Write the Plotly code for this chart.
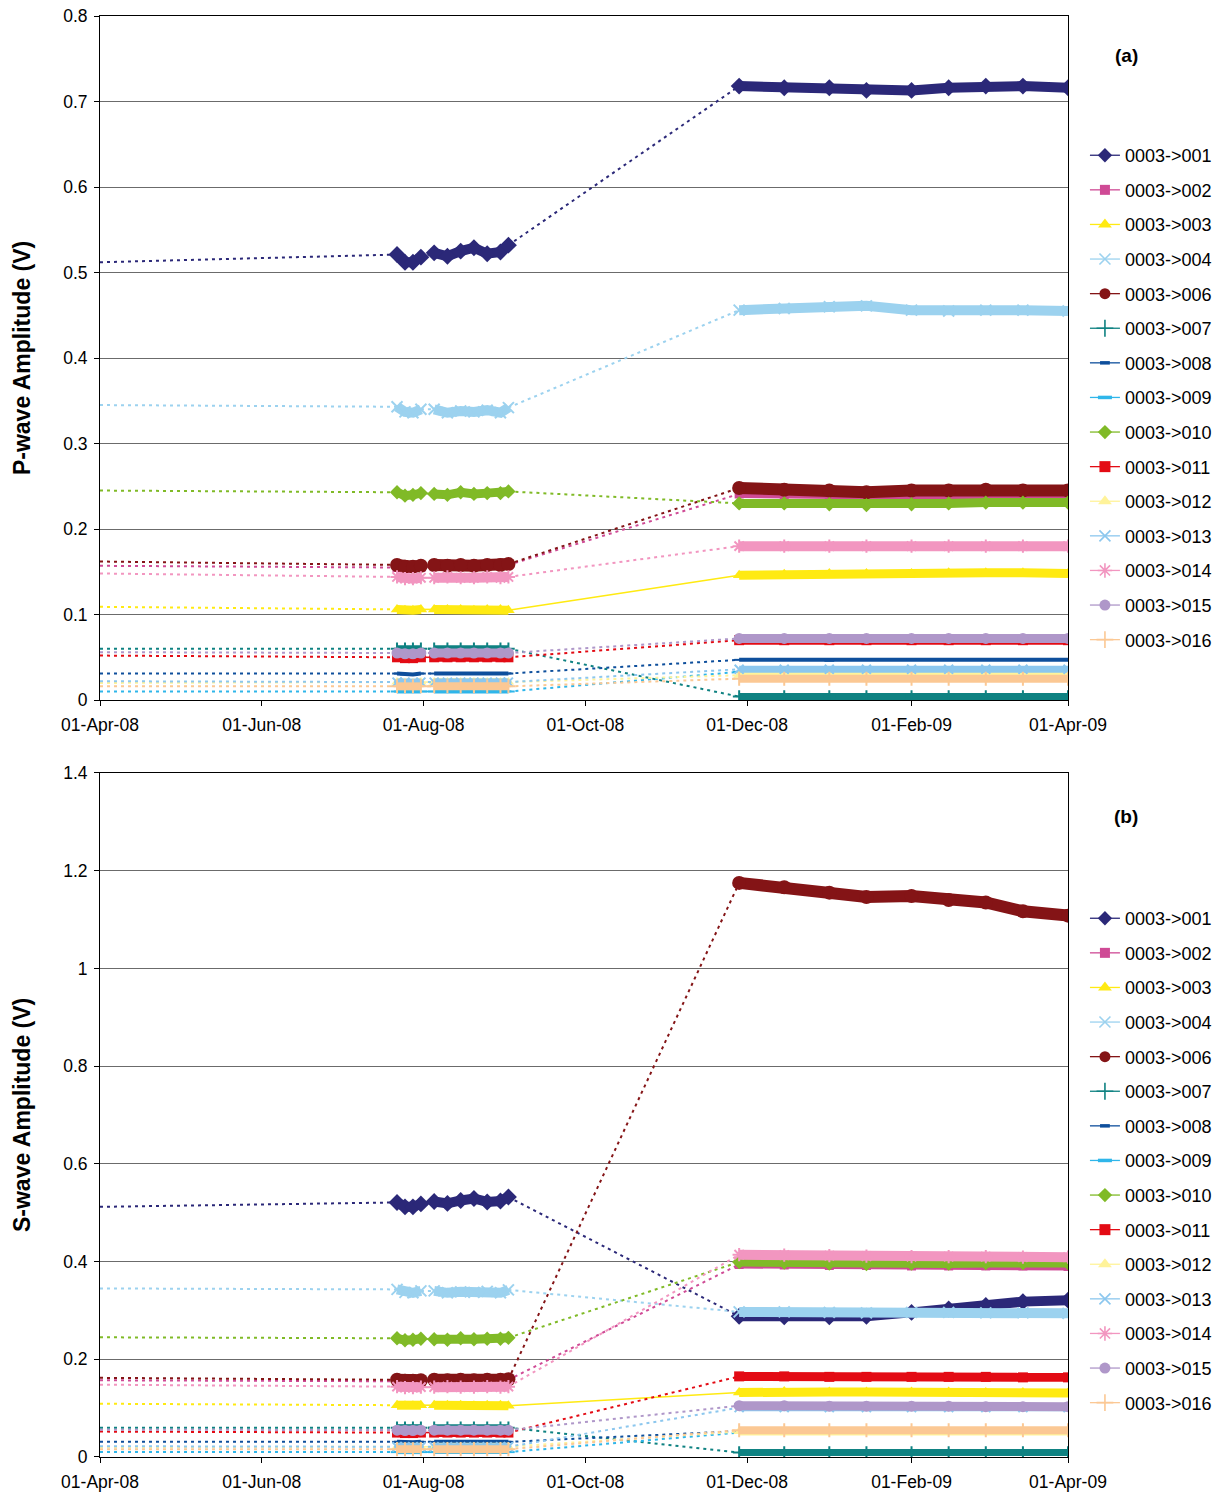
import plotly.graph_objects as go

# ---------------- data ----------------
SERIES = ["0003->001", "0003->002", "0003->003", "0003->004", "0003->006",
          "0003->007", "0003->008", "0003->009", "0003->010", "0003->011",
          "0003->012", "0003->013", "0003->014", "0003->015", "0003->016"]

START_DATE = "2008-04-01"
C1_DATES = ["2008-07-22", "2008-07-25", "2008-07-28", "2008-07-31"]
C2_DATES = ["2008-08-05", "2008-08-10", "2008-08-15", "2008-08-20",
            "2008-08-25", "2008-08-30", "2008-09-02"]
C3_DATES = ["2008-11-28", "2008-12-15", "2009-01-01", "2009-01-15", "2009-02-01",
            "2009-02-15", "2009-03-01", "2009-03-15", "2009-04-01"]

# first reading (same for both wave types)
START_VALS = [0.512, 0.157, 0.109, 0.345, 0.162, 0.060, 0.031, 0.010, 0.245,
              0.052, 0.020, 0.022, 0.148, 0.056, 0.016]

# July readings
C1_VALS = [
    [0.521, 0.512, 0.512, 0.518],
    [0.155, 0.154, 0.154, 0.155],
    [0.106, 0.105, 0.105, 0.106],
    [0.343, 0.337, 0.336, 0.340],
    [0.158, 0.156, 0.156, 0.157],
    [0.060, 0.060, 0.060, 0.060],
    [0.031, 0.030, 0.030, 0.031],
    [0.010, 0.010, 0.010, 0.010],
    [0.243, 0.239, 0.240, 0.242],
    [0.050, 0.049, 0.049, 0.050],
    [0.021, 0.020, 0.020, 0.021],
    [0.021, 0.021, 0.020, 0.021],
    [0.144, 0.142, 0.142, 0.143],
    [0.055, 0.054, 0.054, 0.055],
    [0.016, 0.016, 0.016, 0.016],
]

# August readings
C2_VALS = [
    [0.523, 0.519, 0.525, 0.529, 0.522, 0.524, 0.532],
    [0.156, 0.156, 0.157, 0.156, 0.157, 0.157, 0.158],
    [0.106, 0.106, 0.106, 0.105, 0.106, 0.106, 0.105],
    [0.340, 0.336, 0.338, 0.337, 0.339, 0.336, 0.342],
    [0.158, 0.157, 0.158, 0.157, 0.158, 0.158, 0.159],
    [0.060, 0.060, 0.060, 0.060, 0.060, 0.060, 0.060],
    [0.031, 0.031, 0.031, 0.031, 0.031, 0.031, 0.031],
    [0.010, 0.010, 0.010, 0.010, 0.010, 0.010, 0.010],
    [0.241, 0.240, 0.243, 0.241, 0.242, 0.242, 0.244],
    [0.050, 0.050, 0.050, 0.050, 0.050, 0.050, 0.050],
    [0.021, 0.021, 0.021, 0.021, 0.021, 0.021, 0.021],
    [0.021, 0.021, 0.021, 0.021, 0.021, 0.021, 0.021],
    [0.143, 0.144, 0.143, 0.143, 0.144, 0.143, 0.144],
    [0.055, 0.055, 0.055, 0.055, 0.055, 0.055, 0.055],
    [0.016, 0.016, 0.016, 0.016, 0.016, 0.016, 0.016],
]

# Dec 08 - Apr 09 readings, P-wave
P_C3_VALS = [
    [0.718, 0.716, 0.716, 0.713, 0.713, 0.716, 0.718, 0.718, 0.716],
    [0.241, 0.240, 0.239, 0.238, 0.239, 0.239, 0.240, 0.240, 0.240],
    [0.146, 0.147, 0.148, 0.148, 0.148, 0.149, 0.149, 0.149, 0.148],
    [0.456, 0.458, 0.460, 0.461, 0.456, 0.455, 0.456, 0.456, 0.455],
    [0.248, 0.246, 0.245, 0.243, 0.245, 0.245, 0.246, 0.245, 0.245],
    [0.004, 0.004, 0.004, 0.004, 0.004, 0.004, 0.004, 0.004, 0.004],
    [0.047, 0.047, 0.046, 0.047, 0.047, 0.047, 0.047, 0.047, 0.047],
    [0.033, 0.033, 0.033, 0.033, 0.033, 0.033, 0.033, 0.033, 0.033],
    [0.230, 0.230, 0.229, 0.228, 0.229, 0.230, 0.231, 0.231, 0.231],
    [0.070, 0.070, 0.070, 0.070, 0.070, 0.070, 0.070, 0.070, 0.070],
    [0.029, 0.029, 0.029, 0.029, 0.029, 0.029, 0.029, 0.029, 0.029],
    [0.036, 0.036, 0.036, 0.036, 0.036, 0.036, 0.036, 0.036, 0.036],
    [0.180, 0.180, 0.180, 0.180, 0.180, 0.180, 0.180, 0.180, 0.180],
    [0.072, 0.072, 0.072, 0.072, 0.072, 0.072, 0.072, 0.072, 0.072],
    [0.025, 0.025, 0.025, 0.025, 0.025, 0.025, 0.025, 0.025, 0.025],
]

# Dec 08 - Apr 09 readings, S-wave
S_C3_VALS = [
    [0.288, 0.287, 0.287, 0.288, 0.296, 0.303, 0.310, 0.318, 0.321],
    [0.394, 0.393, 0.392, 0.392, 0.391, 0.391, 0.391, 0.391, 0.390],
    [0.132, 0.134, 0.133, 0.133, 0.133, 0.133, 0.132, 0.132, 0.131],
    [0.297, 0.297, 0.296, 0.295, 0.296, 0.296, 0.295, 0.295, 0.294],
    [1.175, 1.166, 1.155, 1.146, 1.148, 1.140, 1.135, 1.117, 1.108],
    [0.009, 0.009, 0.009, 0.009, 0.009, 0.009, 0.009, 0.009, 0.009],
    [0.053, 0.053, 0.053, 0.053, 0.053, 0.053, 0.053, 0.053, 0.053],
    [0.050, 0.050, 0.050, 0.050, 0.050, 0.050, 0.050, 0.050, 0.050],
    [0.399, 0.398, 0.396, 0.395, 0.396, 0.396, 0.397, 0.397, 0.397],
    [0.165, 0.165, 0.164, 0.164, 0.164, 0.164, 0.164, 0.163, 0.163],
    [0.052, 0.052, 0.052, 0.052, 0.052, 0.052, 0.052, 0.052, 0.052],
    [0.101, 0.101, 0.101, 0.101, 0.101, 0.101, 0.101, 0.101, 0.101],
    [0.414, 0.413, 0.412, 0.411, 0.410, 0.410, 0.410, 0.409, 0.409],
    [0.105, 0.105, 0.104, 0.104, 0.104, 0.104, 0.103, 0.103, 0.103],
    [0.055, 0.055, 0.055, 0.055, 0.055, 0.055, 0.055, 0.055, 0.055],
]

# ---------------- style ----------------
COLORS = ["#2B2878", "#CF4A95", "#FFEA12", "#9CD2EF", "#841416",
          "#0F8282", "#0E4F9C", "#2FB6EA", "#80BA27", "#E30B14",
          "#FFF39A", "#8CC7EE", "#F296C0", "#AF97C9", "#FBC894"]
SYMBOLS = ["diamond", "square", "triangle-up", "x-thin-open", "circle",
           "cross-thin-open", "line-ew-open", "line-ew-open", "diamond", "square",
           "triangle-up", "x-thin-open", "asterisk-open", "circle", "cross-thin-open"]
BAND_W = [10, 8, 9, 10, 12, 7, 4, 4, 9, 9, 8, 7, 10, 9, 8]
MARK_S = [13, 9, 11, 11, 14, 9, 7, 9, 11, 10, 10, 9, 11, 11, 10]
LEG_S = [11, 10, 12, 11, 11, 12, 7, 10, 11, 11, 12, 11, 12, 11, 12]
LEG_MLW = [0, 0, 0, 1.6, 0, 1.6, 3.5, 3.5, 0, 0, 0, 1.6, 1.6, 0, 1.6]
GAP12_SOLID = [False, True, True, False, False, False, False, True, True, True,
               True, False, True, False, False]
GAP23_SOLID = [False, False, True, False, False, False, False, False, False, False,
               False, False, False, False, False]

FONT = "Liberation Sans, Arial, sans-serif"
DOT = "3px,4px"

fig = go.Figure()

panels = [("x", "y", P_C3_VALS, "legend"), ("x2", "y2", S_C3_VALS, "legend2")]

for xa, ya, c3vals, leg in panels:
    for i, name in enumerate(SERIES):
        col = COLORS[i]
        c1 = C1_VALS[i]
        c2 = C2_VALS[i]
        c3 = c3vals[i]
        # dotted connectors
        dx, dy = [START_DATE, C1_DATES[0]], [START_VALS[i], c1[0]]
        sx, sy = [], []
        if GAP12_SOLID[i]:
            sx += [C1_DATES[-1], C2_DATES[0], None]
            sy += [c1[-1], c2[0], None]
        else:
            dx += [None, C1_DATES[-1], C2_DATES[0]]
            dy += [None, c1[-1], c2[0]]
        if GAP23_SOLID[i]:
            sx += [C2_DATES[-1], C3_DATES[0]]
            sy += [c2[-1], c3[0]]
        else:
            dx += [None, C2_DATES[-1], C3_DATES[0]]
            dy += [None, c2[-1], c3[0]]
        fig.add_trace(go.Scatter(x=dx, y=dy, xaxis=xa, yaxis=ya, mode="lines",
                                 line=dict(color=col, width=2, dash=DOT),
                                 showlegend=False, hoverinfo="skip"))
        if sx:
            fig.add_trace(go.Scatter(x=sx, y=sy, xaxis=xa, yaxis=ya, mode="lines",
                                     line=dict(color=col, width=1.6),
                                     showlegend=False, hoverinfo="skip"))
        # dense measurement bands
        bx = C1_DATES + [None] + C2_DATES + [None] + C3_DATES
        by = c1 + [None] + c2 + [None] + c3
        opn = SYMBOLS[i].endswith("open")
        fig.add_trace(go.Scatter(
            x=bx, y=by, xaxis=xa, yaxis=ya, mode="lines+markers",
            line=dict(color=col, width=BAND_W[i]),
            marker=dict(symbol=SYMBOLS[i], size=MARK_S[i], color=col,
                        line=dict(color=col, width=2 if opn else 0)),
            showlegend=False, name=name))
        # legend entry
        fig.add_trace(go.Scatter(
            x=[None], y=[None], xaxis=xa, yaxis=ya, mode="lines+markers", name=name,
            legend=leg, legendgroup=leg + name,
            line=dict(color=col, width=1.3),
            marker=dict(symbol=SYMBOLS[i], size=LEG_S[i], color=col,
                        line=dict(color=col, width=LEG_MLW[i]))))

xcommon = dict(showline=True, linecolor="#000000", linewidth=1, mirror=True,
               ticks="outside", ticklen=5, tickcolor="#000000", ticklabelstandoff=4,
               tickfont=dict(family=FONT, size=17.5, color="#000000"))
ycommon = dict(showline=True, linecolor="#000000", linewidth=1, mirror=True,
               ticks="outside", ticklen=5, tickcolor="#000000", ticklabelstandoff=3,
               tickfont=dict(family=FONT, size=17.5, color="#000000"))

LEGEND_STYLE = dict(xanchor="left", yanchor="top", traceorder="grouped",
                    tracegroupgap=8.2, itemsizing="trace",
                    font=dict(family=FONT, size=18, color="#000000"),
                    bgcolor="rgba(0,0,0,0)")

fig.update_layout(
    width=1232, height=1497,
    margin=dict(l=100, r=164, t=16, b=40, autoexpand=False),
    paper_bgcolor="white", plot_bgcolor="white",
    font=dict(family=FONT, size=17, color="#000000"),
    xaxis=dict(domain=[0, 1], anchor="y", type="date",
               range=["2008-04-01", "2009-04-01"], tick0="2008-04-01", dtick="M2",
               tickformat="%d-%b-%y", showgrid=False, **xcommon),
    yaxis=dict(domain=[0.5253, 1], anchor="x", range=[0, 0.8], dtick=0.1,
               showgrid=True, gridcolor="#6b6b6b", gridwidth=1, zeroline=False,
               **ycommon),
    xaxis2=dict(domain=[0, 1], anchor="y2", type="date",
                range=["2008-04-01", "2009-04-01"], tick0="2008-04-01", dtick="M2",
                tickformat="%d-%b-%y", showgrid=False, **xcommon),
    yaxis2=dict(domain=[0, 0.4747], anchor="x2", range=[0, 1.4], dtick=0.2,
                showgrid=True, gridcolor="#6b6b6b", gridwidth=1, zeroline=False,
                **ycommon),
    legend=dict(x=1.0175, y=0.916, **LEGEND_STYLE),
    legend2=dict(x=1.0175, y=0.3865, **LEGEND_STYLE),
    showlegend=True,
    annotations=[
        dict(text="<b>P-wave Amplitude (V)</b>", xref="paper", yref="paper",
             x=-0.0806, y=0.7626, xanchor="center", yanchor="middle", textangle=-90,
             showarrow=False, font=dict(family=FONT, size=23, color="#000000")),
        dict(text="<b>S-wave Amplitude (V)</b>", xref="paper", yref="paper",
             x=-0.0806, y=0.2373, xanchor="center", yanchor="middle", textangle=-90,
             showarrow=False, font=dict(family=FONT, size=23, color="#000000")),
        dict(text="<b>(a)</b>", xref="paper", yref="paper", x=1.06, y=0.9729,
             xanchor="center", yanchor="middle",
             showarrow=False, font=dict(family=FONT, size=19, color="#000000")),
        dict(text="<b>(b)</b>", xref="paper", yref="paper", x=1.06, y=0.4448,
             xanchor="center", yanchor="middle",
             showarrow=False, font=dict(family=FONT, size=19, color="#000000")),
    ],
)

fig.write_html("out.html")
